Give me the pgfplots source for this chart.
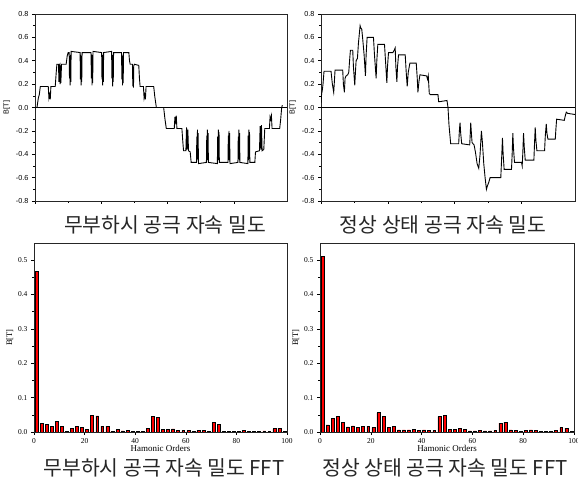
\documentclass[border=0pt]{standalone}
\usepackage{fontspec}
\setmainfont{Liberation Serif}
\newfontfamily\arial{Liberation Sans}
\newfontfamily\kr{Noto Sans CJK KR}
\usepackage{pgfplots}
\pgfplotsset{compat=1.18}

\pgfplotsset{
  base/.style={scale only axis, axis line style={line width=0.7pt, black!85},
    tick align=outside, tick pos=left, major tick length=3bp, minor tick length=1.8bp,
    every tick/.style={black, line width=0.6pt},
    /pgf/number format/assume math mode=true},
  wave/.style={base, height=187bp, xmin=0, xmax=760, ymin=-0.8, ymax=0.8,
    xtick={0,200,400,600}, xticklabels={}, minor x tick num=1,
    ytick={-0.8,-0.6,-0.4,-0.2,0,0.2,0.4,0.6,0.8}, minor y tick num=1,
    tick label style={font=\arial\fontsize{7.3}{8}\selectfont},
    yticklabel style={/pgf/number format/fixed, /pgf/number format/fixed zerofill, /pgf/number format/precision=1},
    ylabel={B[T]}, ylabel style={font=\arial\fontsize{7.3}{8}\selectfont, yshift=-1bp}},
  fft/.style={base, ybar, bar width=1.15, height=189bp, xmin=0, xmax=100, ymin=0, ymax=0.55,
    xtick={0,20,40,60,80,100}, ytick={0,0.1,0.2,0.3,0.4,0.5}, minor y tick num=1,
    tick label style={font=\fontsize{7.5}{8}\selectfont},
    yticklabel style={/pgf/number format/fixed, /pgf/number format/fixed zerofill, /pgf/number format/precision=1},
    ylabel={B[T]}, ylabel style={font=\fontsize{8.5}{9}\selectfont, yshift=-2bp},
    xlabel={Hamonic Orders}, xlabel style={font=\fontsize{9}{10}\selectfont, yshift=5bp}},
  bars/.style={fill=red, draw=black, line width=0.55pt},
  wline/.style={black, line width=0.9pt},
}

\begin{document}
\begin{tikzpicture}
\useasboundingbox (0bp,0bp) rectangle (578bp,482bp);

% no-load air-gap flux density
\begin{axis}[wave, width=252bp, at={(35bp,281bp)}, anchor=south west]
\addplot[black, line width=0.6pt] coordinates {(0,0) (760,0)};
\addplot[wline] coordinates {
(6,0)(10,0.08)(13,0.11)(16,0.18)(40,0.18)(42,0.08)(44,0.11)(46,0.07)(48,0.18)(61,0.18)
(64,0.30)(66,0.37)(71,0.37)(72,0.22)(73,0.36)(75,0.37)(76,0.20)(77,0.36)(78,0.21)(80,0.37)
(94,0.37)(97,0.44)(100,0.47)
(103,0.47)(104,0.25)(105,0.44)(106,0.19)(107,0.45)(108,0.22)(109,0.48)
(136,0.47)(137,0.24)(138,0.45)(139,0.19)(140,0.44)(141,0.22)(142,0.47)
(169,0.47)(170,0.25)(171,0.44)(172,0.19)(173,0.45)(174,0.21)(175,0.48)
(201,0.47)(202,0.24)(203,0.45)(204,0.19)(205,0.44)(206,0.22)(207,0.47)
(231,0.48)(232,0.25)(233,0.44)(234,0.18)(235,0.45)(236,0.22)(237,0.47)
(261,0.47)(262,0.24)(263,0.45)(264,0.19)(265,0.44)(266,0.21)(267,0.47)
(283,0.47)(285,0.40)(287,0.37)(294,0.37)(295,0.18)(296,0.35)(297,0.17)(298,0.36)(300,0.37)
(313,0.36)(315,0.25)(317,0.18)(327,0.18)(329,0.08)(331,0.11)(333,0.07)(335,0.18)
(358,0.18)(361,0.10)(364,0.04)(366,0)(388,0)
(392,-0.10)(396,-0.18)(420,-0.18)(422,-0.08)(424,-0.12)(426,-0.07)(428,-0.18)(443,-0.18)
(446,-0.30)(448,-0.37)(455,-0.37)(457,-0.17)(459,-0.36)(461,-0.19)(463,-0.37)(468,-0.38)(471,-0.47)
(487,-0.47)(488,-0.25)(489,-0.44)(490,-0.19)(491,-0.45)(492,-0.22)(493,-0.48)
(517,-0.47)(518,-0.24)(519,-0.45)(520,-0.19)(521,-0.44)(522,-0.22)(523,-0.47)
(550,-0.48)(551,-0.25)(552,-0.44)(553,-0.19)(554,-0.45)(555,-0.21)(556,-0.47)
(582,-0.47)(583,-0.24)(584,-0.45)(585,-0.20)(586,-0.44)(587,-0.22)(588,-0.48)
(612,-0.47)(613,-0.25)(614,-0.44)(615,-0.19)(616,-0.45)(617,-0.22)(618,-0.47)
(642,-0.48)(643,-0.24)(644,-0.45)(645,-0.19)(646,-0.44)(647,-0.21)(648,-0.47)
(663,-0.47)(665,-0.38)(677,-0.37)(679,-0.16)(681,-0.36)(683,-0.15)(685,-0.37)(690,-0.36)
(693,-0.18)(707,-0.18)(709,-0.08)(711,-0.10)(713,-0.07)(715,-0.18)(738,-0.18)(741,-0.10)
(744,0.0)(746,0.02)
};
\end{axis}

% steady-state air-gap flux density
\begin{axis}[wave, width=254bp, at={(321bp,281bp)}, anchor=south west]
\addplot[black, line width=0.6pt] coordinates {(0,0) (760,0)};
\addplot[wline] coordinates {
(0,0.04)(2,0.12)(4,0.15)(6,0.20)(9,0.31)(30,0.31)(34,0.20)(38,0.13)(40,0.22)(42,0.32)
(65,0.32)(67,0.20)(70,0.13)(72,0.25)(75,0.27)(80,0.28)(83,0.30)(86,0.42)(88,0.49)(95,0.49)
(97,0.35)(101,0.19)(103,0.30)(105,0.40)(109,0.42)(112,0.55)(117,0.70)(119,0.68)(122,0.67)
(125,0.58)(129,0.45)(133,0.27)(135,0.45)(138,0.60)(157,0.60)(160,0.45)(165,0.25)(167,0.40)
(170,0.54)(190,0.54)(193,0.40)(197,0.21)(199,0.35)(202,0.47)(215,0.47)(219,0.49)(222,0.51)
(224,0.35)(227,0.22)(229,0.35)(232,0.45)(252,0.45)(255,0.30)(258,0.18)(261,0.30)(266,0.38)
(285,0.38)(288,0.25)(290,0.13)(293,0.22)(296,0.28)(316,0.27)(319,0.24)(321,0.27)(324,0.12)
(327,0.11)(350,0.11)(352,0.05)(355,0.05)(377,0.06)(380,0.0)(383,-0.15)(388,-0.31)
(412,-0.31)(414,-0.20)(416,-0.13)(418,-0.22)(421,-0.31)(445,-0.32)(447,-0.20)(448,-0.13)
(450,-0.22)(452,-0.30)(458,-0.32)(462,-0.38)(467,-0.48)(472,-0.52)(476,-0.40)(480,-0.20)
(483,-0.30)(487,-0.48)(491,-0.60)(495,-0.70)(498,-0.67)(502,-0.64)(506,-0.60)(538,-0.60)
(541,-0.40)(543,-0.26)(545,-0.40)(548,-0.53)(570,-0.53)(572,-0.40)(574,-0.22)(576,-0.35)
(579,-0.47)(600,-0.47)(602,-0.50)(604,-0.38)(606,-0.22)(608,-0.33)(611,-0.45)(637,-0.45)
(639,-0.30)(641,-0.17)(643,-0.28)(646,-0.37)(669,-0.37)(671,-0.25)(674,-0.14)(676,-0.22)
(679,-0.27)(701,-0.27)(703,-0.18)(705,-0.10)(728,-0.11)(731,-0.07)(734,-0.04)(738,-0.05)
(760,-0.06)
};
\end{axis}

% no-load FFT
\begin{axis}[fft, width=253bp, at={(34bp,50bp)}, anchor=south west]
\addplot[bars] coordinates {
(1,0.467)(3,0.026)(5,0.022)(7,0.016)(9,0.031)(11,0.016)(13,0.002)(15,0.010)(17,0.016)(19,0.014)
(21,0.008)(23,0.048)(25,0.047)(27,0.017)(29,0.017)(31,0.002)(33,0.007)(35,0.003)(37,0.005)(39,0.001)
(41,0.001)(43,0.001)(45,0.010)(47,0.046)(49,0.043)(51,0.007)(53,0.007)(55,0.009)(57,0.004)(59,0.004)
(61,0.004)(63,0.001)(65,0.004)(67,0.004)(69,0.002)(71,0.027)(73,0.023)(75,0.001)(77,0.001)(79,0.001)
(81,0.002)(83,0.004)(85,0.001)(87,0.002)(89,0.001)(91,0.003)(93,0.001)(95,0.010)(97,0.011)(99,0.001)
};
\end{axis}

% steady-state FFT
\begin{axis}[fft, width=254bp, at={(320bp,50bp)}, anchor=south west]
\addplot[bars] coordinates {
(1,0.510)(3,0.021)(5,0.039)(7,0.045)(9,0.027)(11,0.015)(13,0.018)(15,0.013)(17,0.016)(19,0.017)
(21,0.013)(23,0.056)(25,0.046)(27,0.014)(29,0.017)(31,0.006)(33,0.006)(35,0.006)(37,0.007)(39,0.004)
(41,0.006)(43,0.005)(45,0.004)(47,0.045)(49,0.048)(51,0.007)(53,0.007)(55,0.011)(57,0.008)(59,0.003)
(61,0.003)(63,0.004)(65,0.003)(67,0.003)(69,0.004)(71,0.026)(73,0.029)(75,0.006)(77,0.004)(79,0.001)
(81,0.004)(83,0.006)(85,0.004)(87,0.001)(89,0.001)(91,0.002)(93,0.004)(95,0.013)(97,0.011)(99,0.002)
};
\end{axis}

\node[font=\kr\fontsize{20.5}{24}\selectfont, black!85] at (165bp,257bp) {무부하시 공극 자속 밀도};
\node[font=\kr\fontsize{20.5}{24}\selectfont, black!85] at (443bp,257bp) {정상 상태 공극 자속 밀도};
\node[font=\kr\fontsize{20.5}{24}\selectfont, black!85] at (164bp,14bp) {무부하시 공극 자속 밀도 FFT};
\node[font=\kr\fontsize{20.5}{24}\selectfont, black!85] at (445bp,14bp) {정상 상태 공극 자속 밀도 FFT};
\end{tikzpicture}
\end{document}
